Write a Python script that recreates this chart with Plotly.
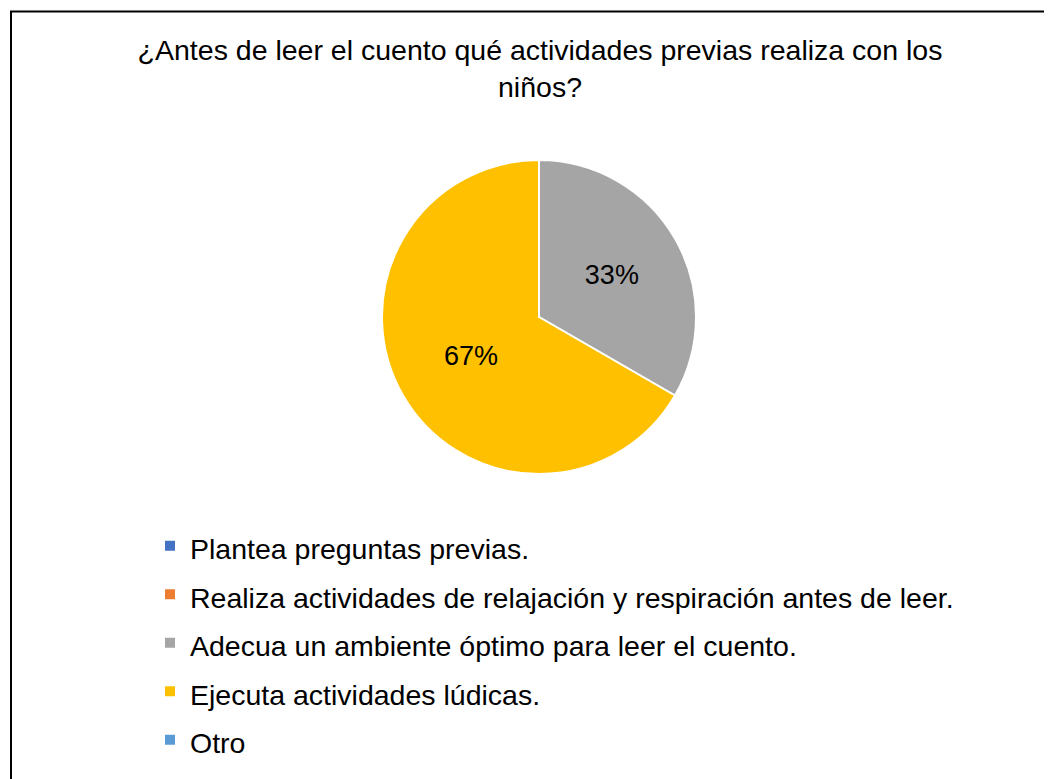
import plotly.graph_objects as go

categories = [
    "Plantea preguntas previas.",
    "Realiza actividades de relajación y respiración antes de leer.",
    "Adecua un ambiente óptimo para leer el cuento.",
    "Ejecuta actividades lúdicas.",
    "Otro",
]
values = [0, 0, 1, 2, 0]
colors = ["#4472C4", "#ED7D31", "#A5A5A5", "#FFC000", "#5B9BD5"]
title_text = "¿Antes de leer el cuento qué actividades previas realiza con los<br>niños?"

# page has an 8px body margin, so the figure is slightly smaller and offset
OFF = 8
W, H = 1052 - OFF, 779 - OFF
FONT = "Liberation Sans, Arial, sans-serif"

legend_labels = ['<span style="font-size:28.5px">%s</span>' % c for c in categories]


def px_x(x):
    return (x - OFF) / W


def px_y(y):
    return 1 - (y - OFF) / H


fig = go.Figure(
    go.Pie(
        labels=legend_labels,
        values=values,
        marker=dict(colors=colors, line=dict(color="white", width=2)),
        sort=False,
        direction="clockwise",
        rotation=0,
        textinfo="percent",
        texttemplate="%{percent:.0%}",
        textposition="inside",
        insidetextorientation="horizontal",
        textfont=dict(family=FONT, size=27, color="black"),
        domain=dict(x=[px_x(382), px_x(696)], y=[px_y(474), px_y(160)]),
        hoverinfo="label+percent",
    )
)

fig.update_layout(
    width=W,
    height=H,
    margin=dict(l=0, r=0, t=0, b=0),
    paper_bgcolor="white",
    plot_bgcolor="white",
    font=dict(family=FONT, color="black"),
    title=dict(
        text=title_text,
        x=px_x(540),
        xanchor="center",
        y=px_y(60),
        yanchor="top",
        yref="container",
        font=dict(family=FONT, size=28.5, color="black"),
    ),
    showlegend=True,
    legend=dict(
        orientation="v",
        x=px_x(150),
        xanchor="left",
        y=px_y(516.5),
        yanchor="top",
        font=dict(family=FONT, size=35, color="black"),
        bgcolor="rgba(0,0,0,0)",
        traceorder="normal",
    ),
    shapes=[
        dict(
            type="rect",
            xref="paper",
            yref="paper",
            x0=px_x(11),
            x1=1.05,
            y0=-0.05,
            y1=px_y(11.5),
            line=dict(color="black", width=2),
            fillcolor="rgba(0,0,0,0)",
        )
    ],
)

fig.write_html("out.html")
